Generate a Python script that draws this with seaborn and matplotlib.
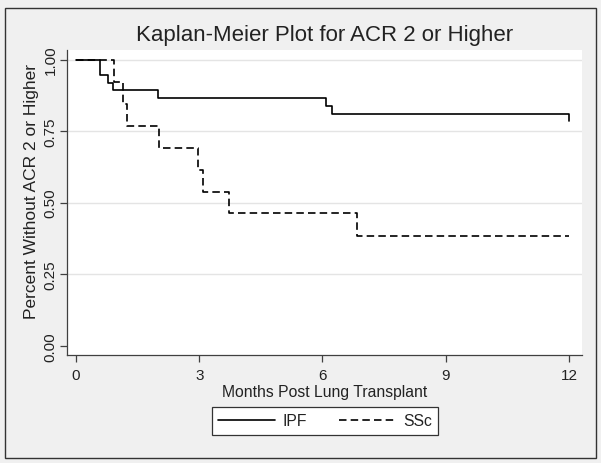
import pandas as pd
import numpy as np
import matplotlib
matplotlib.use('Agg')
import matplotlib.pyplot as plt
import seaborn as sns
from matplotlib.patches import Rectangle

# Kaplan-Meier step values
ipf_months = [0, 0.58, 0.79, 0.89, 1.99, 6.08, 6.22, 12.0]
ipf_surv = [1.0, 0.946, 0.919, 0.892, 0.865, 0.838, 0.811, 0.784]

ssc_months = [0, 0.92, 1.15, 1.23, 2.02, 2.98, 3.08, 3.73, 6.83, 12.0]
ssc_surv = [1.0, 0.923, 0.846, 0.769, 0.692, 0.615, 0.538, 0.462, 0.385, 0.385]

groups = ['IPF', 'SSc']
x_ticks = [0, 3, 6, 9, 12]
y_ticks = [0.0, 0.25, 0.5, 0.75, 1.0]

df = pd.concat([
    pd.DataFrame({'Months': ipf_months, 'Survival': ipf_surv, 'Group': 'IPF'}),
    pd.DataFrame({'Months': ssc_months, 'Survival': ssc_surv, 'Group': 'SSc'}),
], ignore_index=True)

sns.set_style('white')
plt.rcParams['font.family'] = ['Liberation Sans', 'DejaVu Sans']

fig = plt.figure(figsize=(6.01, 4.64), dpi=100)
fig.patch.set_facecolor('#f0f0f0')
fig.patches.append(Rectangle((5 / 601, 1 - 458.5 / 464), 590.5 / 601, 450 / 464,
                             transform=fig.transFigure, fill=False,
                             edgecolor='#333333', linewidth=1.0))

ax = fig.add_axes([66.7 / 601, 1 - 356 / 464, 515 / 601, 305.5 / 464])
ax.set_facecolor('white')

sns.lineplot(data=df, x='Months', y='Survival', hue='Group', style='Group',
             hue_order=groups, style_order=groups,
             palette={'IPF': 'black', 'SSc': 'black'},
             dashes={'IPF': '', 'SSc': (4.5, 2.5)},
             estimator=None, sort=False, drawstyle='steps-post',
             linewidth=1.2, legend=False, ax=ax)

ax.set_xlim(-0.226, 12.31)
ax.set_ylim(-0.0325, 1.035)
ax.set_xticks(x_ticks)
ax.set_xticklabels([str(t) for t in x_ticks])
ax.set_yticks(y_ticks)
ax.set_yticklabels(['%.2f' % t for t in y_ticks], rotation=90, va='center')

for y in y_ticks[1:]:
    ax.axhline(y, color='#e4e4e4', linewidth=1.0, zorder=0)

for s in ['top', 'right']:
    ax.spines[s].set_visible(False)
for s in ['left', 'bottom']:
    ax.spines[s].set_color('#404040')
    ax.spines[s].set_linewidth(0.9)

ax.tick_params(axis='both', direction='out', length=5, width=0.9,
               color='#404040', labelsize=11, labelcolor='#222222',
               left=True, bottom=True)
ax.tick_params(axis='x', pad=4)
ax.tick_params(axis='y', pad=1.5)

ax.set_xlabel('Months Post Lung Transplant', fontsize=11.3, color='#222222', labelpad=2)
ax.set_ylabel('Percent Without ACR 2 or Higher', fontsize=12.5, color='#222222')
ax.yaxis.set_label_coords(-0.053, 0.54)

fig.text(325 / 601, 1 - 36 / 464, 'Kaplan-Meier Plot for ACR 2 or Higher',
         ha='center', va='center', fontsize=16, color='#222222')

leg = fig.legend(handles=ax.lines[:2], labels=groups, ncol=2,
                 loc='center', bbox_to_anchor=(325 / 601, 1 - 422 / 464),
                 fontsize=11.3, frameon=True, fancybox=False, framealpha=1,
                 edgecolor='#333333', handlelength=3.6, handletextpad=0.5,
                 columnspacing=2.0, borderpad=0.4)
leg.get_frame().set_linewidth(0.9)
for t in leg.get_texts():
    t.set_color('#222222')

fig.savefig('out.png', dpi=100, facecolor=fig.get_facecolor())
